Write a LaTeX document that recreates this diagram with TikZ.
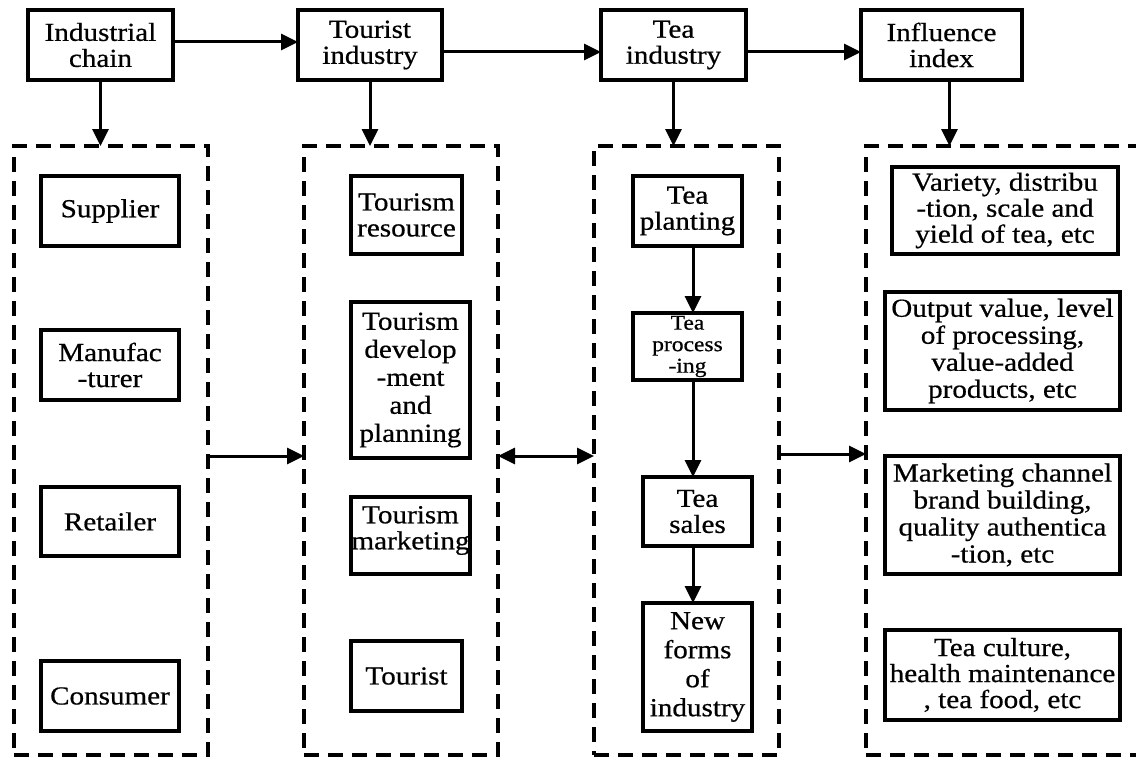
\documentclass[tikz,border=0pt]{standalone}
\usepackage{fontspec}
\setmainfont[FakeStretch=1.12,FakeBold=0.6]{Liberation Serif}
\usetikzlibrary{arrows.meta}
\begin{document}
\begin{tikzpicture}[x=1pt,y=-1pt,
  box/.style={draw, line width=3.5pt, inner sep=0pt, outer sep=0pt},
  dbox/.style={draw, line width=4pt, dash pattern=on 15pt off 9pt, inner sep=0pt, outer sep=0pt},
  txt/.style={align=center, inner sep=0pt, font=\fontsize{26}{26}\selectfont},
  arr/.style={line width=3pt, -{Triangle[length=17pt,width=16pt]}},
  darr/.style={line width=3pt, {Triangle[length=17pt,width=16pt]}-{Triangle[length=17pt,width=16pt]}}]
\useasboundingbox[fill=white] (0,0) rectangle (1136,760);

% top row
\node[box, minimum width=145, minimum height=70] (ic) at (100.5,45) {};
\node[txt] (ict) at (ic.center) {Industrial\\chain};
\node[box, minimum width=144, minimum height=70] (ti) at (370,45) {};
\node[txt] (tit) at (ti.center) {Tourist\\industry};
\node[box, minimum width=145, minimum height=70] (tea) at (673.5,45) {};
\node[txt] (teat) at (tea.center) {Tea\\industry};
\node[box, minimum width=161, minimum height=70] (ii) at (941.5,45) {};
\node[txt] (iit) at (ii.center) {Influence\\index};

% dashed groups
\node[dbox, minimum width=194, minimum height=609] (d1) at (111,450.5) {};
\node[dbox, minimum width=194, minimum height=609] (d2) at (401,450.5) {};
\node[dbox, minimum width=185, minimum height=609] (d3) at (686.5,450.5) {};
\node[dbox, minimum width=290, minimum height=609] (d4) at (1011,450.5) {};

% column 1
\node[box, minimum width=138, minimum height=70] (sup) at (110,211) {};
\node[txt] (supt) at (sup.center) {Supplier};
\node[box, minimum width=138, minimum height=70] (man) at (110,365) {};
\node[txt] (mant) at (man.center) {Manufac\\-turer};
\node[box, minimum width=138, minimum height=69] (ret) at (110,521.5) {};
\node[txt] (rett) at (ret.center) {Retailer};
\node[box, minimum width=138, minimum height=70] (con) at (110,696) {};
\node[txt] (cont) at (con.center) {Consumer};

% column 2
\node[box, minimum width=111, minimum height=78] (tr) at (406.5,215) {};
\node[txt] (trt) at (tr.center) {Tourism\\resource};
\node[box, minimum width=119, minimum height=156] (td) at (410.5,380) {};
\node[txt, font=\fontsize{26}{28}\selectfont] (tdt) at (td.center) {Tourism\\develop\\-ment\\and\\planning};
\node[box, minimum width=119, minimum height=77] (tm) at (410.5,535.5) {};
\node[txt] (tmt) at ([yshift=5pt]tm.center) {Tourism\\marketing};
\node[box, minimum width=111, minimum height=70] (tt) at (406.5,676) {};
\node[txt] (ttt) at (tt.center) {Tourist};

% column 3
\coordinate (cx) at (693,0);
\node[box, minimum width=109, minimum height=70] (tp) at (687.5,211) {};
\node[txt] (tpt) at (tp.center) {Tea\\planting};
\node[box, minimum width=109, minimum height=67] (tpr) at (687.5,346.5) {};
\node[txt, font=\fontsize{21}{21.5}\selectfont] (tprt) at (tpr.center) {Tea\\process\\-ing};
\node[box, minimum width=109, minimum height=69] (ts) at (697.5,511.5) {};
\node[txt] (tst) at (ts.center) {Tea\\sales};
\node[box, minimum width=109, minimum height=128] (nf) at (697.5,667) {};
\node[txt, font=\fontsize{26}{29}\selectfont] (nft) at (nf.center) {New\\forms\\of\\industry};

% column 4
\node[box, minimum width=226, minimum height=87] (v) at (1005,210.5) {};
\node[txt] (vt) at (v.center) {Variety, distribu\\-tion, scale and\\yield of tea, etc};
\node[box, minimum width=235, minimum height=118] (o) at (1002.5,351) {};
\node[txt, font=\fontsize{26}{27}\selectfont] (ot) at (o.center) {Output value, level\\of processing,\\value-added\\products, etc};
\node[box, minimum width=235, minimum height=118] (m) at (1002.5,515) {};
\node[txt, font=\fontsize{26}{27}\selectfont] (mt) at (m.center) {Marketing channel\\brand building,\\quality authentica\\-tion, etc};
\node[box, minimum width=235, minimum height=90] (c) at (1002.5,675) {};
\node[txt] (ct) at (c.center) {Tea culture,\\health maintenance\\, tea food, etc};

% top arrows
\draw[arr] ([yshift=3pt]ic.east) -- ([yshift=3pt]ti.west);
\draw[arr] ([yshift=-7pt]ti.east) -- ([yshift=-7pt]tea.west);
\draw[arr] ([yshift=-7pt]tea.east) -- ([yshift=-7pt]ii.west);
\draw[arr] (ic.south) -- (ic.south |- d1.north);
\draw[arr] (ti.south) -- (ti.south |- d2.north);
\draw[arr] (tea.south) -- (tea.south |- d3.north);
\draw[arr] ([xshift=8pt]ii.south) -- ([xshift=8pt]ii.south |- d4.north);

% arrows between groups
\draw[arr] ([yshift=-5.5pt]d1.east) -- ([yshift=-5.5pt]d2.west);
\draw[darr] ([yshift=-5.5pt]d2.east) -- ([yshift=-5.5pt]d3.west);
\draw[arr] (d3.east |- 0,454) -- (d4.west |- 0,454);

% tea chain arrows
\draw[arr] (tp.south -| cx) -- (tpr.north -| cx);
\draw[arr] (tpr.south -| cx) -- (ts.north -| cx);
\draw[arr] (ts.south -| cx) -- (nf.north -| cx);
\end{tikzpicture}
\end{document}
